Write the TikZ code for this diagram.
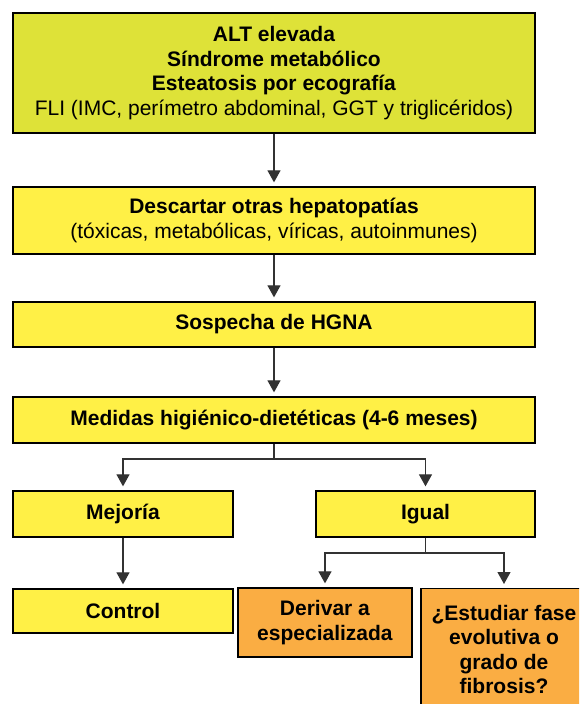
\documentclass[tikz,border=0pt]{standalone}
\usepackage{fontspec}
\setmainfont{Liberation Sans}
\usetikzlibrary{arrows.meta}
\definecolor{limebox}{RGB}{222,226,56}
\definecolor{yelbox}{RGB}{255,240,70}
\definecolor{orabox}{RGB}{250,173,67}
\definecolor{linegray}{RGB}{50,50,50}
\tikzset{
  box/.style={draw=black, line width=1.3pt, rectangle, align=center, inner sep=0pt,
    font=\fontsize{21}{24.5}\selectfont},
  ybox/.style={box, fill=yelbox},
  lbox/.style={box, fill=limebox},
  obox/.style={box, fill=orabox},
  conn/.style={draw=linegray, line width=1.2pt},
  arr/.style={conn, -{Triangle[length=12pt,width=13pt]}, shorten >=4pt},
}
\begin{document}
\begin{tikzpicture}[x=1pt,y=-1pt]
\useasboundingbox (0,0) rectangle (579,704);
\clip (0,0) rectangle (579,704);
\node[lbox, minimum width=522pt, minimum height=120pt] (b1) at (274,73)
  {\textbf{ALT elevada}\\\textbf{Síndrome metabólico}\\\textbf{Esteatosis por ecografía}\\FLI (IMC, perímetro abdominal, GGT y triglicéridos)};
\node[ybox, minimum width=522pt, minimum height=67pt] (b2) at (274,220.5)
  {\textbf{Descartar otras hepatopatías}\\(tóxicas, metabólicas, víricas, autoinmunes)};
\node[ybox, minimum width=522pt, minimum height=45pt] (b3) at (274,324.5)
  {\textbf{Sospecha de HGNA}};
\node[ybox, minimum width=522pt, minimum height=46pt] (b4) at (274,420)
  {\textbf{Medidas higiénico-dietéticas (4-6 meses)}};
\node[ybox, minimum width=220pt, minimum height=46pt] (mej) at (123,514)
  {\textbf{Mejoría}};
\node[ybox, minimum width=219pt, minimum height=46pt] (igu) at (425.5,514)
  {\textbf{Igual}};
\node[ybox, minimum width=220pt, minimum height=44pt] (ctl) at (123,611)
  {\textbf{Control}};
\node[obox, minimum width=174pt, minimum height=69pt] (der) at (325,622.5)
  {\textbf{Derivar a}\\\textbf{especializada}};
\node[obox, minimum width=166pt, minimum height=122pt, anchor=north] (est) at (504,588)
  {\textbf{¿Estudiar fase}\\\textbf{evolutiva o}\\\textbf{grado de}\\\textbf{fibrosis?}};
\coordinate (br1) at (274,459);
\coordinate (br2) at (425.5,553);
\draw[arr] (b1) -- (b2);
\draw[arr] (b2) -- (b3);
\draw[arr] (b3) -- (b4);
\draw[conn] (b4) -- (br1);
\draw[arr] (br1) -| (mej);
\draw[arr] (br1) -| (igu);
\draw[arr] (mej) -- (ctl);
\draw[conn] (igu) -- (br2);
\draw[arr] (br2) -| (der);
\draw[arr] (br2) -| (est);
\end{tikzpicture}
\end{document}
